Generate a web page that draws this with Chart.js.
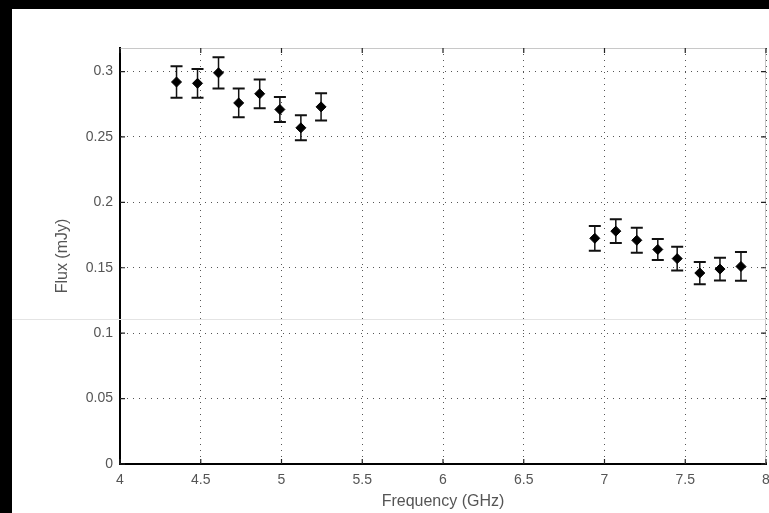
<!DOCTYPE html>
<html>
<head>
<meta charset="utf-8">
<script src="https://cdn.jsdelivr.net/npm/chart.js@4"></script>
<style>
  html, body { margin: 0; padding: 0; background: #000; }
  body { width: 769px; height: 513px; position: relative; overflow: hidden; }
  #wrap { position: absolute; left: 12px; top: 9px; width: 757px; height: 504px; background: #fff; overflow: hidden; }
  #scanline { position: absolute; left: 12px; top: 319px; width: 757px; height: 1px; background: #e4e4e4; }
</style>
</head>
<body>
<div id="wrap"><canvas id="c" width="757" height="504"></canvas></div>
<div id="scanline"></div>
<script>
const frequency = [4.35, 4.48, 4.61, 4.735, 4.865, 4.99, 5.12, 5.245, 6.94, 7.07, 7.2, 7.33, 7.45, 7.59, 7.715, 7.845];
const flux = [0.292, 0.291, 0.299, 0.276, 0.283, 0.271, 0.257, 0.273, 0.1725, 0.178, 0.171, 0.164, 0.157, 0.146, 0.149, 0.151];
const fluxErr = [0.012, 0.011, 0.012, 0.011, 0.011, 0.0095, 0.0095, 0.0105, 0.0095, 0.009, 0.0095, 0.008, 0.009, 0.0085, 0.0087, 0.011];
const xTicks = [4, 4.5, 5, 5.5, 6, 6.5, 7, 7.5, 8];
const yTicks = [0, 0.05, 0.1, 0.15, 0.2, 0.25, 0.3];

const points = frequency.map((f, i) => ({ x: f, y: flux[i] }));

const errorBars = {
  id: "errorBars",
  beforeDatasetsDraw(chart) {
    const { ctx, scales } = chart;
    ctx.save();
    ctx.strokeStyle = "#111";
    points.forEach((p, i) => {
      const x = scales.x.getPixelForValue(p.x);
      const top = scales.y.getPixelForValue(p.y + fluxErr[i]);
      const bot = scales.y.getPixelForValue(p.y - fluxErr[i]);
      ctx.lineWidth = 1.5;
      ctx.beginPath();
      ctx.moveTo(x, top);
      ctx.lineTo(x, bot);
      ctx.stroke();
      ctx.lineWidth = 2;
      ctx.beginPath();
      ctx.moveTo(x - 6, top);
      ctx.lineTo(x + 6, top);
      ctx.moveTo(x - 6, bot);
      ctx.lineTo(x + 6, bot);
      ctx.stroke();
    });
    ctx.restore();
  },
};

// box edges and inward tick marks, matlab style
const boxLines = {
  id: "boxLines",
  afterDraw(chart) {
    const { ctx, chartArea: a, scales } = chart;
    ctx.save();
    ctx.strokeStyle = "#c8c8c8";
    ctx.lineWidth = 1;
    ctx.beginPath();
    ctx.moveTo(a.left, a.top + 0.5);
    ctx.lineTo(a.right - 0.5, a.top + 0.5);
    ctx.lineTo(a.right - 0.5, a.bottom);
    ctx.stroke();
    ctx.strokeStyle = "#222";
    ctx.lineWidth = 1.2;
    ctx.beginPath();
    scales.x.ticks.forEach((t) => {
      const x = scales.x.getPixelForValue(t.value);
      ctx.moveTo(x, a.bottom);
      ctx.lineTo(x, a.bottom - 5);
      ctx.moveTo(x, a.top);
      ctx.lineTo(x, a.top + 5);
    });
    scales.y.ticks.forEach((t) => {
      const y = scales.y.getPixelForValue(t.value);
      ctx.moveTo(a.left, y);
      ctx.lineTo(a.left + 5, y);
      ctx.moveTo(a.right, y);
      ctx.lineTo(a.right - 5, y);
    });
    ctx.stroke();
    ctx.restore();
  },
};

const tickFont = { family: "'Liberation Sans', Arial, sans-serif", size: 14 };
const titleFont = { family: "'Liberation Sans', Arial, sans-serif", size: 16 };

new Chart(document.getElementById("c"), {
  type: "scatter",
  data: {
    datasets: [
      {
        data: points,
        pointStyle: "rectRot",
        pointRadius: 5,
        pointBackgroundColor: "#000",
        pointBorderColor: "#000",
        pointBorderWidth: 1,
      },
    ],
  },
  options: {
    responsive: false,
    animation: false,
    layout: { autoPadding: false, padding: { top: 39, right: 3, left: 0, bottom: 0 } },
    plugins: { legend: { display: false }, tooltip: { enabled: false } },
    scales: {
      x: {
        type: "linear",
        min: 4,
        max: 8,
        afterBuildTicks: (s) => { s.ticks = xTicks.map((v) => ({ value: v })); },
        afterFit: (s) => {
          s.height = 49;
          s.paddingLeft = 0;
          s.paddingRight = 0;
        },
        ticks: {
          color: "#555",
          font: tickFont,
          padding: 8,
          maxRotation: 0,
          callback: (v) => String(v),
        },
        grid: { color: "#555", drawTicks: false },
        border: { color: "#000", width: 2, dash: [1, 5] },
        title: {
          display: true,
          text: "Frequency (GHz)",
          color: "#555",
          font: titleFont,
          padding: { top: 0, bottom: 2 },
        },
      },
      y: {
        type: "linear",
        min: 0,
        max: 0.318,
        afterBuildTicks: (s) => { s.ticks = yTicks.map((v) => ({ value: v })); },
        afterFit: (s) => { s.width = 108; },
        ticks: {
          color: "#555",
          font: tickFont,
          padding: 7,
          callback: (v) => String(v),
        },
        grid: { color: "#555", drawTicks: false },
        border: { color: "#000", width: 2, dash: [1, 5] },
        title: {
          display: true,
          text: "Flux (mJy)",
          color: "#555",
          font: titleFont,
          padding: { top: 41, bottom: 0 },
        },
      },
    },
  },
  plugins: [errorBars, boxLines],
});
</script>
</body>
</html>
